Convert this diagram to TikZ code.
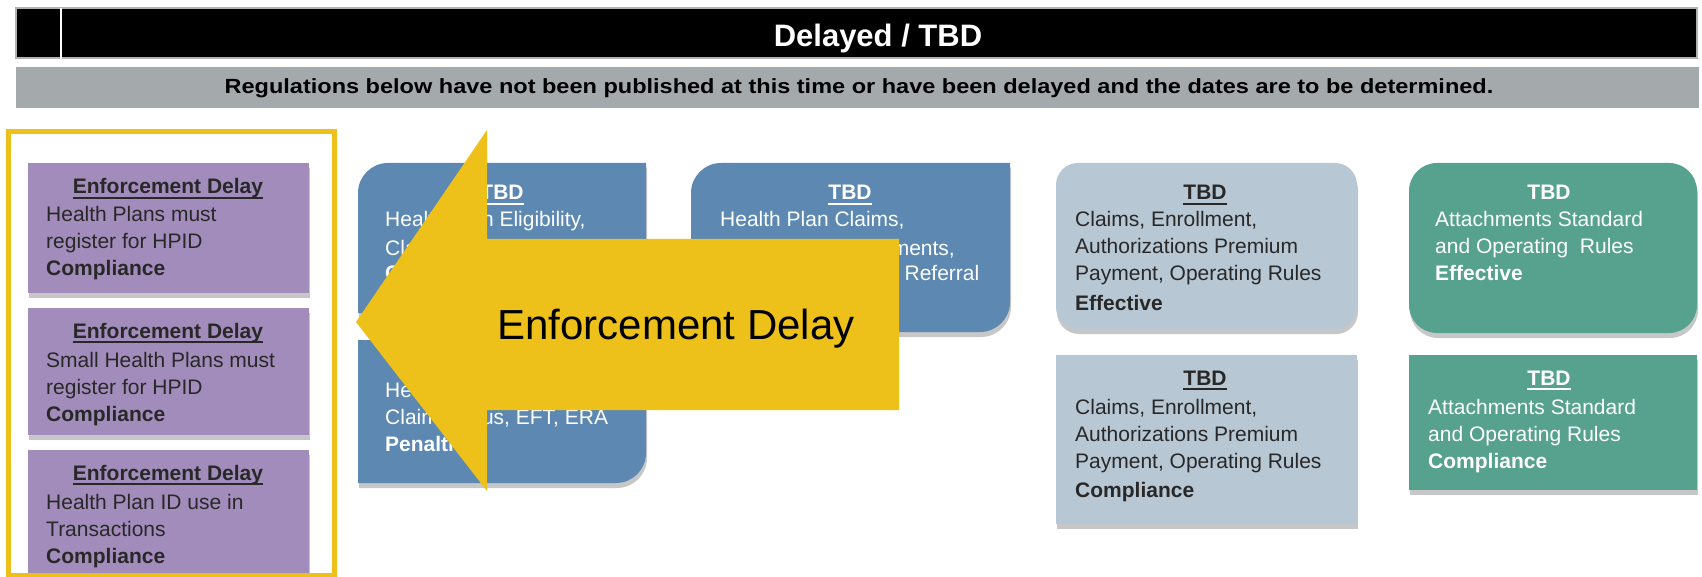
\documentclass[tikz,border=0pt]{standalone}
\usepackage{fontspec}
\setmainfont{Liberation Sans}
\usetikzlibrary{shadows}
\definecolor{purp}{RGB}{162,140,187}
\definecolor{bluex}{RGB}{92,136,178}
\definecolor{grayx}{RGB}{184,199,212}
\definecolor{greenx}{RGB}{86,162,143}
\definecolor{yel}{RGB}{238,193,26}
\definecolor{barg}{RGB}{164,169,172}
\definecolor{darktxt}{RGB}{40,40,40}
\newcommand\bodyfont{\fontsize{21}{27}\selectfont}
\newcommand\myul[1]{\setbox0\hbox{#1}\rlap{\rule[-5pt]{\wd0}{2pt}}\box0}
\newcommand\mylines[1]{\begin{tabular}[t]{@{}l@{}}#1\end{tabular}}
\begin{document}
\begin{tikzpicture}[x=1pt,y=-1pt,
  txt/.style={inner sep=0pt, anchor=base west, font=\bodyfont},
  ttl/.style={inner sep=0pt, anchor=base, font=\bodyfont\bfseries},
  shad/.style={drop shadow={shadow xshift=1pt, shadow yshift=-5pt, opacity=0.22, fill=black}},
]
\useasboundingbox (0,0) rectangle (1702,577);
\fill[white] (0,0) rectangle (1702,577);
% header
\fill[black, draw=gray!60, line width=1.5pt] (16,8) rectangle (1697,58);
\fill[white] (60,8) rectangle (62,66);
\fill[barg] (16,67) rectangle (1699,108);
\node[inner sep=0pt, anchor=base, text=white, font=\fontsize{31}{36}\selectfont\bfseries] (title) at (878,47) {Delayed / TBD};
\node[inner sep=0pt, anchor=base, text=black, font=\fontsize{20.5}{24}\selectfont\bfseries] (sub) at (859,94) {\scalebox{1.147}[1]{Regulations below have not been published at this time or have been delayed and the dates are to be determined.}};
% purple boxes
\fill[purp, shad] (28,163) rectangle (309,293);
\fill[purp, shad] (28,308) rectangle (309,435);
\fill[purp, shad] (28,450) rectangle (309,574);
\node[ttl, text=darktxt] (p1t) at (168,194) {\myul{Enforcement Delay}};
\node[txt, text=darktxt] (p1b) at (46,222) {\mylines{Health Plans must\\register for HPID\\\textbf{Compliance}}};
\node[ttl, text=darktxt] (p2t) at (168,338) {\myul{Enforcement Delay}};
\node[txt, text=darktxt] (p2b) at (46,367) {\mylines{Small Health Plans must\\register for HPID\\\textbf{Compliance}}};
\node[ttl, text=darktxt] (p3t) at (168,480) {\myul{Enforcement Delay}};
\node[txt, text=darktxt] (p3b) at (46,509) {\mylines{Health Plan ID use in\\Transactions\\\textbf{Compliance}}};
\draw[yel, line width=5pt] (8.5,131.5) rectangle (334.5,575);
% blue boxes
\fill[bluex, shad] (358,313) -- (358,193) arc[start angle=180,end angle=270,radius=30] -- (646,163) -- (646,313) -- cycle;
\fill[bluex, shad] (358,340) -- (646,340) -- (646,453) arc[start angle=0,end angle=90,radius=30] -- (358,483) -- cycle;
\fill[bluex, shad] (691,332) -- (691,193) arc[start angle=180,end angle=270,radius=30] -- (1010,163) -- (1010,302) arc[start angle=0,end angle=90,radius=30] -- cycle;
\node[ttl, text=white] (at) at (502,200) {\myul{TBD}};
\node[txt, text=white] (ab) at (385,227) {\mylines{Health Plan Eligibility,\\[2pt]Claim Status, EFT, ERA\\[-2pt]\textbf{Compliance}}};
\node[ttl, text=white] (bt) at (502,369) {\myul{TBD}};
\node[txt, text=white] (bb) at (385,397) {\mylines{Health Plan Eligibility,\\Claim Status, EFT, ERA\\\textbf{Penalties}}};
\node[ttl, text=white] (ct) at (850,200) {\myul{TBD}};
\node[txt, text=white] (cb) at (720,227) {\mylines{Health Plan Claims,\\[2pt]Enrollment, Attachments,\\[-2pt]Prior Authorization, Referral}};
% gray boxes
\fill[grayx, shad, rounded corners=22pt] (1056,163) rectangle (1357,329);
\fill[grayx, shad] (1056,355) rectangle (1357,524);
\node[ttl, text=darktxt] (dt) at (1205,200) {\myul{TBD}};
\node[txt, text=darktxt] (db) at (1075,227) {\mylines{Claims, Enrollment,\\Authorizations Premium\\Payment, Operating Rules\\[3pt]\textbf{Effective}}};
\node[ttl, text=darktxt] (et) at (1205,385) {\myul{TBD}};
\node[txt, text=darktxt] (eb) at (1075,414) {\mylines{Claims, Enrollment,\\Authorizations Premium\\Payment, Operating Rules\\[2pt]\textbf{Compliance}}};
% green boxes
\fill[greenx, shad, rounded corners=28pt] (1409,163) rectangle (1697,333);
\fill[greenx, shad] (1409,355) rectangle (1697,490);
\node[ttl, text=white] (ft) at (1549,200) {TBD};
\node[txt, text=white] (fb) at (1435,227) {\mylines{Attachments Standard\\and Operating\ \ Rules\\\textbf{Effective}}};
\node[ttl, text=white] (gt) at (1549,385) {\myul{TBD}};
\node[txt, text=white] (gb) at (1428,414) {\mylines{Attachments Standard\\and Operating Rules\\\textbf{Compliance}}};
% arrow
\fill[yel] (356,322) -- (487,130) -- (487,239) -- (899,239) -- (899,410) -- (487,410) -- (487,491) -- cycle;
\node[inner sep=0pt, anchor=base, font=\fontsize{42}{50}\selectfont] (arrowlabel) at (676,339) {Enforcement Delay};
\end{tikzpicture}
\end{document}
